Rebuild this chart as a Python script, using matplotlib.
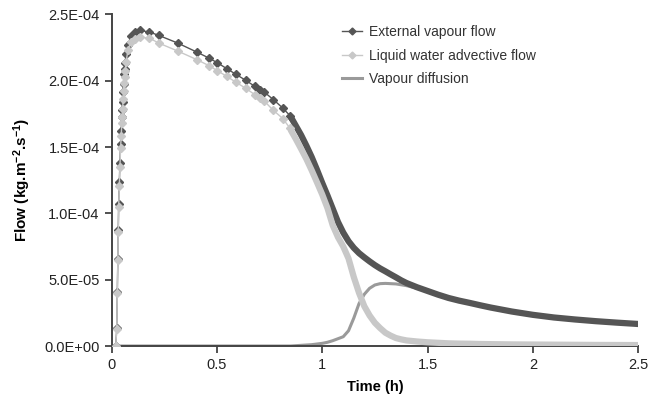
import numpy as np
import matplotlib
matplotlib.use("Agg")
import matplotlib.pyplot as plt
from matplotlib.lines import Line2D

plt.rcParams["font.family"] = ["Liberation Sans", "DejaVu Sans"]
plt.rcParams["mathtext.fontset"] = "custom"
plt.rcParams["mathtext.bf"] = "Liberation Sans:bold"
plt.rcParams["mathtext.rm"] = "Liberation Sans"
plt.rcParams["mathtext.default"] = "bf"

# time steps with markers (h), values in 1E-04
t_sparse = [0.020, 0.025, 0.0275, 0.030, 0.032, 0.034, 0.037, 0.040, 0.043, 0.046,
            0.049, 0.051, 0.053, 0.055, 0.057, 0.059, 0.062, 0.065, 0.069, 0.078,
            0.091, 0.110, 0.135, 0.180, 0.224, 0.314, 0.405, 0.462, 0.502, 0.547,
            0.591, 0.637, 0.680, 0.705, 0.726, 0.768, 0.813, 0.848]
ext_sparse = [0, 0.133, 0.404, 0.653, 0.873, 1.069, 1.237, 1.383, 1.526, 1.624,
              1.727, 1.777, 1.840, 1.915, 1.978, 2.048, 2.091, 2.136, 2.204, 2.267,
              2.334, 2.367, 2.379, 2.367, 2.342, 2.284, 2.216, 2.171, 2.136, 2.091,
              2.048, 2.003, 1.958, 1.933, 1.913, 1.858, 1.794, 1.735]
liq_sparse = [0, 0.130, 0.400, 0.645, 0.860, 1.050, 1.210, 1.350, 1.490, 1.585,
              1.680, 1.730, 1.790, 1.860, 1.920, 1.985, 2.030, 2.075, 2.140, 2.230,
              2.290, 2.317, 2.329, 2.321, 2.284, 2.224, 2.159, 2.114, 2.076, 2.033,
              1.988, 1.943, 1.895, 1.870, 1.845, 1.777, 1.715, 1.640]

# densely sampled part (h), values in 1E-05
t_dense = [0.85, 0.875, 0.9, 0.925, 0.95, 0.975, 1.0, 1.025, 1.05, 1.075, 1.1, 1.125,
           1.15, 1.175, 1.2, 1.225, 1.25, 1.275, 1.3, 1.325, 1.35, 1.375, 1.4, 1.45,
           1.5, 1.55, 1.6, 1.65, 1.7, 1.75, 1.8, 1.9, 2.0, 2.1, 2.2, 2.3, 2.4, 2.5]
ext_dense = [17.3, 16.6, 15.9, 15.1, 14.25, 13.3, 12.3, 11.35, 10.35, 9.35, 8.55, 7.9,
             7.4, 7.0, 6.68, 6.38, 6.1, 5.85, 5.63, 5.4, 5.18, 4.95, 4.75, 4.43,
             4.15, 3.87, 3.62, 3.42, 3.25, 3.07, 2.9, 2.6, 2.35, 2.15, 2.0, 1.87, 1.76, 1.66]
liq_dense = [16.3, 15.6, 14.86, 14.1, 13.25, 12.35, 11.43, 10.4, 9.1, 8.2, 7.5, 6.6,
             5.2, 4.0, 3.0, 2.3, 1.75, 1.35, 1.0, 0.78, 0.6, 0.5, 0.42, 0.34,
             0.28, 0.24, 0.2, 0.18, 0.17, 0.15, 0.14, 0.12, 0.11, 0.1, 0.09, 0.08, 0.075, 0.07]

t_diff = [0.0, 0.85, 0.9, 0.95, 1.0, 1.025, 1.05, 1.075, 1.1, 1.125, 1.15, 1.175, 1.2,
          1.225, 1.25, 1.275, 1.3, 1.35, 1.4, 1.45, 1.5, 1.6, 1.7, 1.8, 1.9, 2.0,
          2.1, 2.2, 2.3, 2.4, 2.5]
diff_vals = [0, 0, 0.05, 0.1, 0.2, 0.28, 0.4, 0.55, 0.7, 1.15, 2.1, 3.2, 3.9,
             4.35, 4.6, 4.7, 4.72, 4.68, 4.55, 4.35, 4.1, 3.6, 3.24, 2.87, 2.57, 2.33,
             2.14, 1.99, 1.86, 1.75, 1.65]

yticks = [0, 0.5e-4, 1.0e-4, 1.5e-4, 2.0e-4, 2.5e-4]
xticks = [0, 0.5, 1, 1.5, 2, 2.5]

c_ext = "#555555"
c_liq = "#c8c8c8"
c_diff = "#9a9a9a"

fig = plt.figure(figsize=(6.51, 4.0), dpi=100)
ax = fig.add_axes([0.1713, 0.135, 0.809, 0.829])

ax.plot(t_diff, np.array(diff_vals) * 1e-5, color=c_diff, lw=2.2, zorder=2)

ax.plot(t_sparse, np.array(ext_sparse) * 1e-4, color=c_ext, lw=1.0, marker="D",
        ms=3.8, mec=c_ext, zorder=3)
ax.plot(t_dense, np.array(ext_dense) * 1e-5, color=c_ext, lw=4.5, zorder=3,
        solid_capstyle="butt")

ax.plot(t_sparse, np.array(liq_sparse) * 1e-4, color=c_liq, lw=1.0, marker="D",
        ms=3.8, mec=c_liq, zorder=4)
ax.plot(t_dense, np.array(liq_dense) * 1e-5, color=c_liq, lw=4.5, zorder=4,
        solid_capstyle="butt")

ax.set_xlim(0, 2.5)
ax.set_ylim(0, 2.5e-4)
ax.set_xticks(xticks)
ax.set_xticklabels(["0", "0.5", "1", "1.5", "2", "2.5"])
ax.set_yticks(yticks)
ax.set_yticklabels([f"{v:.1E}" for v in yticks])
ax.tick_params(axis="both", direction="out", length=5, width=1.2, colors="#333333",
               labelsize=10.5, labelcolor="#222222")

for s in ["top", "right"]:
    ax.spines[s].set_visible(False)
for s in ["left", "bottom"]:
    ax.spines[s].set_color("#444444")
    ax.spines[s].set_linewidth(1.4)

ax.set_xlabel("Time (h)", fontsize=10.5, fontweight="bold", labelpad=6)
ax.set_ylabel("Flow (kg.m$^{-2}$.s$^{-1}$)", fontsize=11, fontweight="bold",
              labelpad=8)

handles = [
    Line2D([], [], color=c_ext, lw=1.0, marker="D", ms=3.5),
    Line2D([], [], color=c_liq, lw=1.0, marker="D", ms=3.5),
    Line2D([], [], color=c_diff, lw=2.2),
]
labels = ["External vapour flow", "Liquid water advective flow", "Vapour diffusion"]
ax.legend(handles, labels, loc="upper left", bbox_to_anchor=(0.413, 1.005),
          frameon=False, fontsize=10, handlelength=1.5, handletextpad=0.5,
          labelspacing=0.68, labelcolor="#333333")

fig.savefig("out.png", dpi=100)
